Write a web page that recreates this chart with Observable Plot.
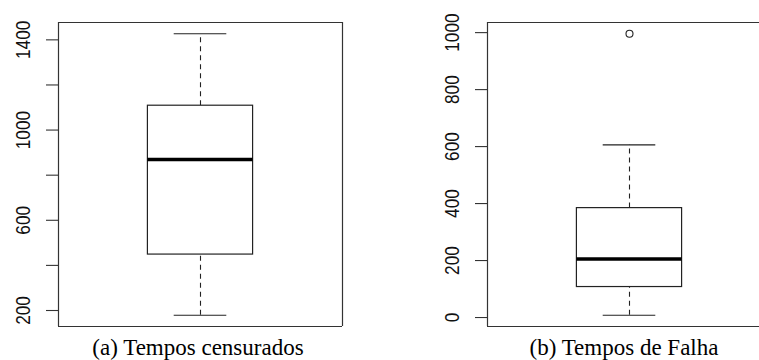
<!DOCTYPE html>
<html><head><meta charset="utf-8">
<script src="https://cdn.jsdelivr.net/npm/d3@7"></script>
<script src="https://cdn.jsdelivr.net/npm/@observablehq/plot@0.6"></script>
<style>
html,body{margin:0;padding:0;background:#fff;overflow:hidden;width:759px;height:360px;}
#wrap{position:relative;width:759px;height:360px;overflow:hidden;background:#fff;}
.panel{position:absolute;top:0;max-width:none !important;}
.cap{position:absolute;top:336px;width:300px;font-family:'Liberation Serif','Times New Roman',Times,'DejaVu Serif',serif;font-size:23px;line-height:23px;white-space:nowrap;text-align:center;color:#000;}
</style></head><body><div id="wrap"></div>
<script>
// ---- data ----
const captions = ["(a) Tempos censurados", "(b) Tempos de Falha"];
const whiskerLow = [179, 8];
const firstQuartile = [448, 107];
const medians = [870, 205];
const thirdQuartile = [1108, 384];
const whiskerHigh = [1427, 606];
const outliers = [[], [996]];
const yTicks = [[200, 400, 600, 800, 1000, 1200, 1400], [0, 200, 400, 600, 800, 1000]];
const yTickLabels = [[200, 600, 1000, 1400], [0, 200, 400, 600, 800, 1000]];

// ---- layout ----
const layouts = [
  {left: 0, width: 380, marginLeft: 58, marginRight: 38, capCenter: 198, rightEdge: true},
  {left: 380, width: 379, marginLeft: 107, marginRight: -12, capCenter: 624, rightEdge: false}
];
const wrap = document.getElementById("wrap");
const xDomain = [0.46, 1.54];

captions.forEach((cap, i) => {
  const row = {lo: whiskerLow[i], q1: firstQuartile[i], med: medians[i], q3: thirdQuartile[i], hi: whiskerHigh[i]};
  const outs = outliers[i];
  const [mn, mx] = d3.extent([row.lo, row.hi, ...outs]);
  const pad = (mx - mn) * 0.04;
  const yDomain = [mn - pad, mx + pad];
  const L = layouts[i];
  const chart = Plot.plot({
    width: L.width,
    height: 336,
    marginTop: 22,
    marginBottom: 10,
    marginLeft: L.marginLeft,
    marginRight: L.marginRight,
    style: {background: "white", overflow: "hidden", maxWidth: "none"},
    x: {domain: xDomain, axis: null},
    y: {domain: yDomain, axis: null},
    marks: [
      Plot.ruleX([row], {x: () => 1, y1: "q3", y2: "hi", stroke: "#222", strokeWidth: 1.1, strokeDasharray: "5,4"}),
      Plot.ruleX([row], {x: () => 1, y1: "lo", y2: "q1", stroke: "#222", strokeWidth: 1.1, strokeDasharray: "5,4"}),
      Plot.ruleY([row], {y: "hi", x1: () => 0.9, x2: () => 1.1, stroke: "#222", strokeWidth: 1.2}),
      Plot.ruleY([row], {y: "lo", x1: () => 0.9, x2: () => 1.1, stroke: "#222", strokeWidth: 1.2}),
      Plot.rect([row], {x1: () => 0.8, x2: () => 1.2, y1: "q1", y2: "q3", fill: "white", stroke: "#222", strokeWidth: 1.2}),
      Plot.ruleY([row], {y: "med", x1: () => 0.8, x2: () => 1.2, stroke: "#000", strokeWidth: 3.5}),
      Plot.dot(outs, {x: () => 1, y: d => d, r: 3.5, stroke: "#222", fill: "none", strokeWidth: 1.1}),
      Plot.axisY({ticks: yTicks[i], tickSize: 12, tickFormat: () => "", stroke: "#333", strokeWidth: 1.1}),
      Plot.text(yTickLabels[i], {
        y: d => d, text: d => String(d), frameAnchor: "left", rotate: -90, dx: -35,
        fontSize: 21, fontFamily: "Liberation Sans, Arial, sans-serif", fill: "#111",
        textAnchor: "middle", lineAnchor: "middle"
      }),
      // plot box (the right panel's right edge lies outside the picture)
      Plot.ruleY(yDomain, {stroke: "#333", strokeWidth: 1.2}),
      Plot.ruleX(L.rightEdge ? xDomain : [xDomain[0]], {stroke: "#333", strokeWidth: 1.2})
    ]
  });
  chart.classList.add("panel");
  chart.style.left = L.left + "px";
  chart.style.maxWidth = "none";
  // condense the rotated tick labels along their reading direction
  chart.querySelectorAll('g[aria-label="text"] text').forEach(t => {
    const tr = t.getAttribute("transform");
    if (tr) t.setAttribute("transform", tr + " scale(0.82,1)");
  });
  wrap.appendChild(chart);
  const c = document.createElement("div");
  c.className = "cap";
  c.style.left = (L.capCenter - 150) + "px";
  c.textContent = cap;
  wrap.appendChild(c);
});
</script></body></html>
